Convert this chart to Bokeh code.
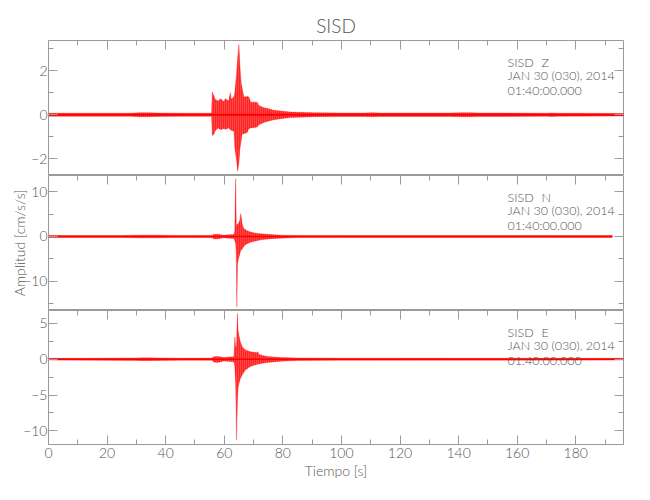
from bokeh.plotting import figure
from bokeh.models import Range1d, LinearAxis, SingleIntervalTicker, Label, ColumnDataSource
from bokeh.layouts import column
from bokeh.embed import file_html
from bokeh.resources import INLINE

# ---------------- data ----------------
title_text = "SISD"
station = "SISD"
components = ["Z", "N", "E"]
date_text = "JAN 30 (030), 2014"
time_text = "01:40:00.000"
x_label = "Tiempo [s]"
y_label = "Amplitud [cm/s/s]"
x_min, x_max = 0.0, 196.3

# Z component: envelope of the trace (time [s], upper, lower)
z_t  = [0, 28, 31, 34, 37, 45, 55.7, 55.9, 56.4, 57.0, 58.0, 58.7, 59.8, 60.4, 61.5, 62.1, 62.4,
        63.3, 63.6, 64.2, 64.6, 65.0, 65.3, 65.8, 66.1, 66.7, 67.8, 68.4, 69.0, 71.2, 71.8, 73.5,
        75.2, 76.9, 79.2, 82.6, 90.6, 100, 108, 110.5, 113, 137, 141, 144, 147, 170, 172, 174, 196.3]
z_hi = [0.07, 0.07, 0.09, 0.09, 0.08, 0.07, 0.07, 1.03, 0.87, 0.68, 0.62, 0.72, 0.60, 0.72, 0.62, 1.00, 0.70,
        0.80, 1.00, 1.85, 2.60, 3.18, 2.30, 1.40, 1.20, 0.80, 0.82, 0.80, 0.57, 0.57, 0.42, 0.32,
        0.27, 0.20, 0.17, 0.12, 0.09, 0.08, 0.08, 0.09, 0.08, 0.08, 0.09, 0.09, 0.08, 0.07, 0.08, 0.07, 0.06]
z_lo = [-0.07, -0.07, -0.09, -0.09, -0.08, -0.07, -0.07, -0.94, -0.90, -0.70, -0.60, -0.68, -0.62, -0.66, -0.60, -0.68, -0.70,
        -0.75, -1.46, -2.07, -2.55, -2.20, -1.60, -1.16, -0.86, -0.86, -0.80, -0.63, -0.60, -0.56, -0.45, -0.35,
        -0.28, -0.23, -0.18, -0.12, -0.09, -0.08, -0.08, -0.09, -0.08, -0.08, -0.09, -0.09, -0.08, -0.07, -0.08, -0.07, -0.06]

# N component
n_t  = [0, 25, 31, 38, 42, 55.8, 56.3, 57.5, 58.5, 59.5, 63.3, 63.6, 63.9, 64.1, 64.3, 64.5, 64.7,
        65.3, 65.6, 66.1, 66.7, 67.3, 67.8, 68.9, 70.7, 72.4, 75.8, 79.2, 85, 110, 192.5]
n_hi = [0.20, 0.22, 0.30, 0.30, 0.24, 0.25, 0.45, 0.50, 0.42, 0.30, 0.45, 1.20, 12.9, 3.0, 2.0, 2.8, 2.8,
        3.5, 5.1, 2.8, 1.7, 1.5, 1.3, 1.0, 0.75, 0.60, 0.45, 0.30, 0.25, 0.22, 0.20]
n_lo = [-0.20, -0.22, -0.30, -0.28, -0.24, -0.25, -0.50, -0.55, -0.45, -0.30, -0.45, -1.0, -1.5, -4.0, -15.7, -6.0, -5.4,
        -3.9, -3.2, -2.8, -2.2, -1.8, -1.6, -1.3, -1.0, -0.75, -0.50, -0.37, -0.25, -0.22, -0.20]

# E component
e_t  = [0, 15, 30, 33, 38, 45, 55.8, 56.4, 57.8, 59.0, 59.8, 63.3, 63.6, 63.9, 64.2, 64.5, 64.7, 65.3,
        66.1, 67.2, 68.9, 71.2, 71.4, 71.8, 72.4, 74.6, 79.2, 85, 100, 196.3]
e_hi = [0.12, 0.14, 0.17, 0.20, 0.18, 0.15, 0.16, 0.34, 0.38, 0.30, 0.24, 0.35, 3.1, 1.5, 2.0, 6.4, 4.1, 2.7,
        1.75, 1.3, 1.06, 0.90, 1.06, 0.70, 0.60, 0.37, 0.23, 0.17, 0.15, 0.12]
e_lo = [-0.12, -0.14, -0.17, -0.20, -0.18, -0.15, -0.16, -0.40, -0.44, -0.34, -0.24, -0.35, -1.0, -3.3, -11.3, -5.6, -4.0, -2.9,
        -2.2, -1.5, -1.0, -0.70, -0.70, -0.65, -0.60, -0.46, -0.28, -0.17, -0.15, -0.12]

y_ranges = [(-2.75, 3.36), (-16.5, 13.6), (-11.9, 6.8)]
y_intervals = [2, 10, 5]
x_interval = 20

# ---------------- style ----------------
FONT = "'Lato Light', Lato, Roboto, sans-serif"
AX = "#9a9a9a"
TXT = "#555555"
RED = "#ff0000"
W = 633
LEFT, RIGHT = 48, 10
FRAME_H = 135
TOP1 = 40
BOTTOM3 = 36
BASE_W = [2.2, 1.6, 1.6]

panels = [(z_t, z_hi, z_lo), (n_t, n_hi, n_lo), (e_t, e_hi, e_lo)]
xr = Range1d(x_min, x_max)


def style_axis(ax, show, line=True):
    ax.axis_line_color = AX if line else None
    ax.major_tick_line_color = AX
    ax.minor_tick_line_color = AX
    ax.major_tick_in = 9
    ax.major_tick_out = 0
    ax.minor_tick_in = 5
    ax.minor_tick_out = 0
    if show:
        ax.major_label_text_font = FONT
        ax.major_label_text_font_size = "14px"
        ax.major_label_text_color = TXT
        ax.major_label_standoff = 1
    else:
        ax.major_label_text_font_size = "0px"
        ax.major_label_text_color = None


figs = []
for i, (t, hi, lo) in enumerate(panels):
    y0, y1 = y_ranges[i]
    top = TOP1 if i == 0 else 0
    bottom = BOTTOM3 if i == 2 else 0
    p = figure(width=W, height=FRAME_H + top + bottom, x_range=xr, y_range=Range1d(y0, y1),
               output_backend="svg", toolbar_location=None,
               x_axis_location=None, y_axis_location=None,
               min_border_left=LEFT, min_border_right=RIGHT,
               min_border_top=top, min_border_bottom=bottom,
               title=title_text if i == 0 else None)
    p.xgrid.visible = False
    p.ygrid.visible = False
    p.outline_line_color = AX
    p.outline_line_width = 1
    p.background_fill_color = "white"
    p.border_fill_color = "white"

    if i == 0:
        p.title.align = "center"
        p.title.text_font = FONT
        p.title.text_font_size = "19px"
        p.title.text_font_style = "normal"
        p.title.text_color = TXT
        p.title.text_line_height = 1.5
        p.title.standoff = 7

    src = ColumnDataSource(dict(t=t, hi=hi, lo=lo))
    p.varea(x="t", y1="lo", y2="hi", source=src, fill_color=RED, fill_alpha=0.72,
            hatch_pattern="vertical_line", hatch_color=RED, hatch_alpha=1.0,
            hatch_scale=2, hatch_weight=1)
    p.line(x="t", y="hi", source=src, line_color=RED, line_width=0.6, line_alpha=0.5)
    p.line(x="t", y="lo", source=src, line_color=RED, line_width=0.6, line_alpha=0.5)
    # trace baseline over the recorded time span
    p.line(x="t", y=0, source=src, line_color=RED, line_width=BASE_W[i])

    # left axis with labels
    yl = LinearAxis(ticker=SingleIntervalTicker(interval=y_intervals[i], num_minor_ticks=2))
    style_axis(yl, True)
    if i == 1:
        yl.axis_label = y_label
        yl.axis_label_text_font = FONT
        yl.axis_label_text_font_size = "14px"
        yl.axis_label_text_font_style = "normal"
        yl.axis_label_text_color = TXT
        yl.axis_label_standoff = -8
    p.add_layout(yl, "left")

    # right axis (ticks only)
    yr = LinearAxis(ticker=SingleIntervalTicker(interval=y_intervals[i], num_minor_ticks=2),
                    fixed_location=x_max)
    style_axis(yr, False, line=False)
    p.add_layout(yr, "right")

    # top axis (ticks only, pointing down into this panel)
    xa = LinearAxis(ticker=SingleIntervalTicker(interval=x_interval, num_minor_ticks=2),
                    fixed_location=y1)
    style_axis(xa, False, line=False)
    p.add_layout(xa, "above")

    # bottom axis only on the last panel
    if i == 2:
        xb = LinearAxis(ticker=SingleIntervalTicker(interval=x_interval, num_minor_ticks=2))
        style_axis(xb, True)
        xb.major_label_standoff = 3
        xb.axis_label = x_label
        xb.axis_label_text_font = FONT
        xb.axis_label_text_font_size = "14px"
        xb.axis_label_text_font_style = "normal"
        xb.axis_label_text_color = TXT
        xb.axis_label_standoff = 1
        p.add_layout(xb, "below")

    # header annotation
    per_px = (y1 - y0) / FRAME_H
    for txt, xx, off in [(station, 156.7, 21.7), (components[i], 168.3, 21.7),
                         (date_text, 156.7, 35.0), (time_text, 156.7, 50.0)]:
        p.add_layout(Label(x=xx, y=y1 - off * per_px, text=txt, text_font=FONT,
                           text_font_size="12.5px", text_color=TXT, text_baseline="middle"))
    figs.append(p)

layout = column(*figs, spacing=0)
open("out.html", "w").write(file_html(layout, INLINE))
